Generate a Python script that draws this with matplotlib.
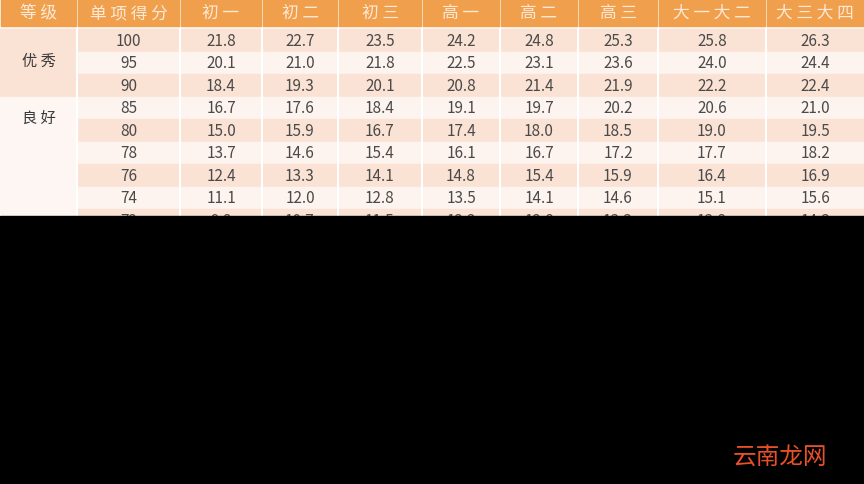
import matplotlib.pyplot as plt
from matplotlib.patches import Rectangle

plt.rcParams['font.family'] = ['Noto Sans CJK SC', 'DejaVu Sans']

headers = ['等 级', '单 项 得 分', '初 一', '初 二', '初 三', '高 一', '高 二', '高 三', '大 一 大 二', '大 三 大 四']
scores = [100, 95, 90, 85, 80, 78, 76, 74, 72]
grades = {'优 秀': (0, 3), '良 好': (3, 5)}
values = [
    [21.8, 22.7, 23.5, 24.2, 24.8, 25.3, 25.8, 26.3],
    [20.1, 21.0, 21.8, 22.5, 23.1, 23.6, 24.0, 24.4],
    [18.4, 19.3, 20.1, 20.8, 21.4, 21.9, 22.2, 22.4],
    [16.7, 17.6, 18.4, 19.1, 19.7, 20.2, 20.6, 21.0],
    [15.0, 15.9, 16.7, 17.4, 18.0, 18.5, 19.0, 19.5],
    [13.7, 14.6, 15.4, 16.1, 16.7, 17.2, 17.7, 18.2],
    [12.4, 13.3, 14.1, 14.8, 15.4, 15.9, 16.4, 16.9],
    [11.1, 12.0, 12.8, 13.5, 14.1, 14.6, 15.1, 15.6],
    [9.8, 10.7, 11.5, 12.2, 12.8, 13.3, 13.8, 14.3],
]

edges = [0, 77, 180, 262, 338, 422, 500, 578, 658, 766, 864]
head_h = 27
top = 30
row_h = 22.5

fig = plt.figure(figsize=(8.64, 4.85), dpi=100)
ax = fig.add_axes([0, 0, 1, 1])
ax.set_xlim(0, 864)
ax.set_ylim(485, 0)
ax.axis('off')
ax.add_patch(Rectangle((0, 0), 864, 485, color='#fdf6f2', zorder=0))

# header
for i, h in enumerate(headers):
    x0, x1 = edges[i], edges[i + 1]
    ax.add_patch(Rectangle((x0 + 1, 0), x1 - x0 - 2, head_h, color='#f0a04c', zorder=1))
    ax.text((x0 + x1) / 2, head_h / 2, h, ha='center', va='center', color='#fde9d6', fontsize=12, zorder=3)

# rows
for r, sc in enumerate(scores):
    y0 = top + r * row_h
    c = '#fae2d4' if r % 2 == 0 else '#fdf4ef'
    ax.add_patch(Rectangle((edges[1], y0), 864 - edges[1], row_h, color=c, zorder=1))
    yc = y0 + row_h / 2
    ax.text((edges[1] + edges[2]) / 2, yc, str(sc), ha='center', va='center', fontsize=11, color='#4a4a4a', zorder=3)
    for j, v in enumerate(values[r]):
        ax.text((edges[j + 2] + edges[j + 3]) / 2, yc, f'{v:.1f}', ha='center', va='center',
                fontsize=11, color='#4a4a4a', zorder=3)

for g, (a, b) in grades.items():
    y0 = top + a * row_h
    c = '#fae2d4' if a == 0 else '#fdf6f2'
    ax.add_patch(Rectangle((0, y0), edges[1], (b - a) * row_h, color=c, zorder=1))
    ax.text(edges[1] / 2, y0 + (b - a) * row_h / 2 - 2, g, ha='center', va='center', fontsize=11, color='#3a3a3a', zorder=3)

# vertical separators
for x in edges[1:-1]:
    ax.plot([x, x], [top, 485], color='white', lw=1.5, zorder=2)

# black lower region
ax.add_patch(Rectangle((0, 217), 864, 268, color='black', zorder=5))
ax.text(780, 457, '云南龙网', ha='center', va='center', fontsize=17, color='#e8502a', zorder=6)

fig.savefig('out.png', dpi=100)
